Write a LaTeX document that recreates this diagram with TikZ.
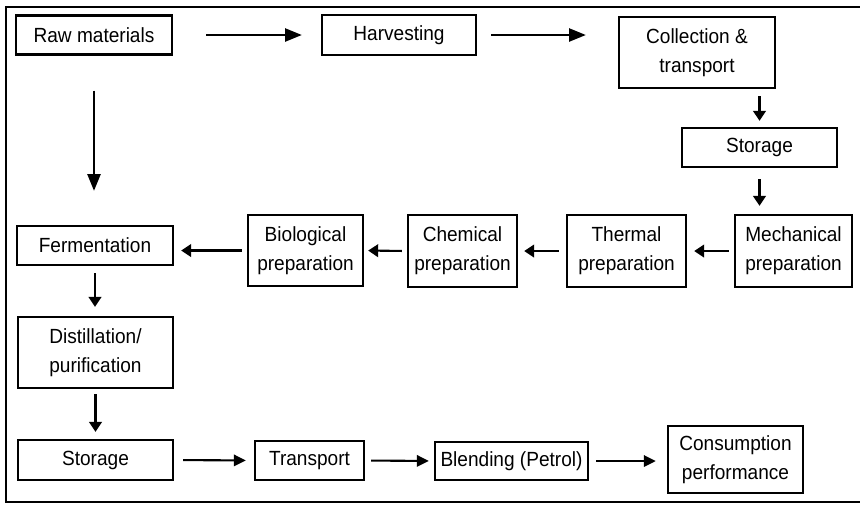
\documentclass[tikz,border=0pt]{standalone}
\usepackage{fontspec}
\setmainfont[FakeStretch=0.93]{Liberation Sans}
\usetikzlibrary{arrows.meta}

\begin{document}
\begin{tikzpicture}[x=0.3mm,y=-0.3mm]
\tikzset{
  stage/.style={draw,line width=2pt,align=center,inner sep=0pt,font=\fontsize{17.5}{25}\selectfont},
  sz/.style 2 args={minimum width=#1*0.3mm,minimum height=#2*0.3mm},
  flow/.style={-{Triangle[length=3mm,width=3.8mm]},line width=1.8pt},
  midflow/.style={-{Triangle[length=3.6mm,width=3.4mm]},line width=1.8pt},
  bigflow/.style={-{Triangle[length=5mm,width=3.9mm]},line width=1.8pt},
  gap/.style 2 args={shorten <=#1*0.3mm,shorten >=#2*0.3mm}
}
\useasboundingbox (0,0) rectangle (860,505);
\draw[line width=2pt] (860,7) -- (6,7) -- (6,502) -- (860,502);
\node[stage,sz={156}{39}] (raw) at (94,35) {Raw materials};
\node[stage,sz={154}{40}] (harv) at (399,35) {Harvesting};
\node[stage,sz={156}{71}] (coll) at (697,52.5) {Collection \&\\transport};
\node[stage,sz={155}{39}] (stor1) at (759.5,147.5) {Storage};
\node[stage,sz={117}{72}] (mech) at (793.5,251) {Mechanical\\preparation};
\node[stage,sz={119}{72}] (therm) at (626.5,251) {Thermal\\preparation};
\node[stage,sz={109}{72}] (chem) at (462.5,251) {Chemical\\preparation};
\node[stage,sz={115}{71}] (bio) at (305.5,250.5) {Biological\\preparation};
\node[stage,sz={156}{39}] (ferm) at (95,245.5) {Fermentation};
\node[stage,sz={155}{71}] (dist) at (95.5,352.5) {Distillation/\\purification};
\node[stage,sz={155}{40}] (stor2) at (95.5,460) {Storage};
\node[stage,sz={109}{39}] (trans) at (309.5,460.5) {Transport};
\node[stage,sz={153}{38}] (blend) at (511.5,461) {Blending (Petrol)};
\node[stage,sz={135}{67}] (cons) at (735.5,459.5) {Consumption\\performance};
\draw[bigflow,gap={33}{19}] (raw.east) -- (harv.west);
\draw[bigflow,gap={14}{32}] (harv.east) -- (harv.east -| coll.west);
\draw[flow,gap={7}{6}] (stor1.north |- coll.south) -- (stor1.north);
\draw[flow,gap={11}{8}] (stor1.south) -- (stor1.south |- mech.north);
\draw[flow,gap={5}{7}] (mech.west) -- (therm.east);
\draw[flow,gap={7}{6}] (therm.west) -- (chem.east);
\draw[flow,gap={5}{4}] (chem.west) -- (bio.east);
\draw[flow,gap={5}{7}] (bio.west) -- (bio.west -| ferm.east);
\draw[bigflow,gap={35}{34}] (raw.south) -- (raw.south |- ferm.north);
\draw[flow,gap={7}{9}] (ferm.south) -- (ferm.south |- dist.north);
\draw[flow,gap={5}{7}] (dist.south) -- (dist.south |- stor2.north);
\draw[midflow,gap={9}{8}] (stor2.east) -- (trans.west);
\draw[midflow,gap={6}{5}] (trans.east) -- (blend.west);
\draw[midflow,gap={7}{11}] (blend.east) -- (blend.east -| cons.west);
\end{tikzpicture}
\end{document}
